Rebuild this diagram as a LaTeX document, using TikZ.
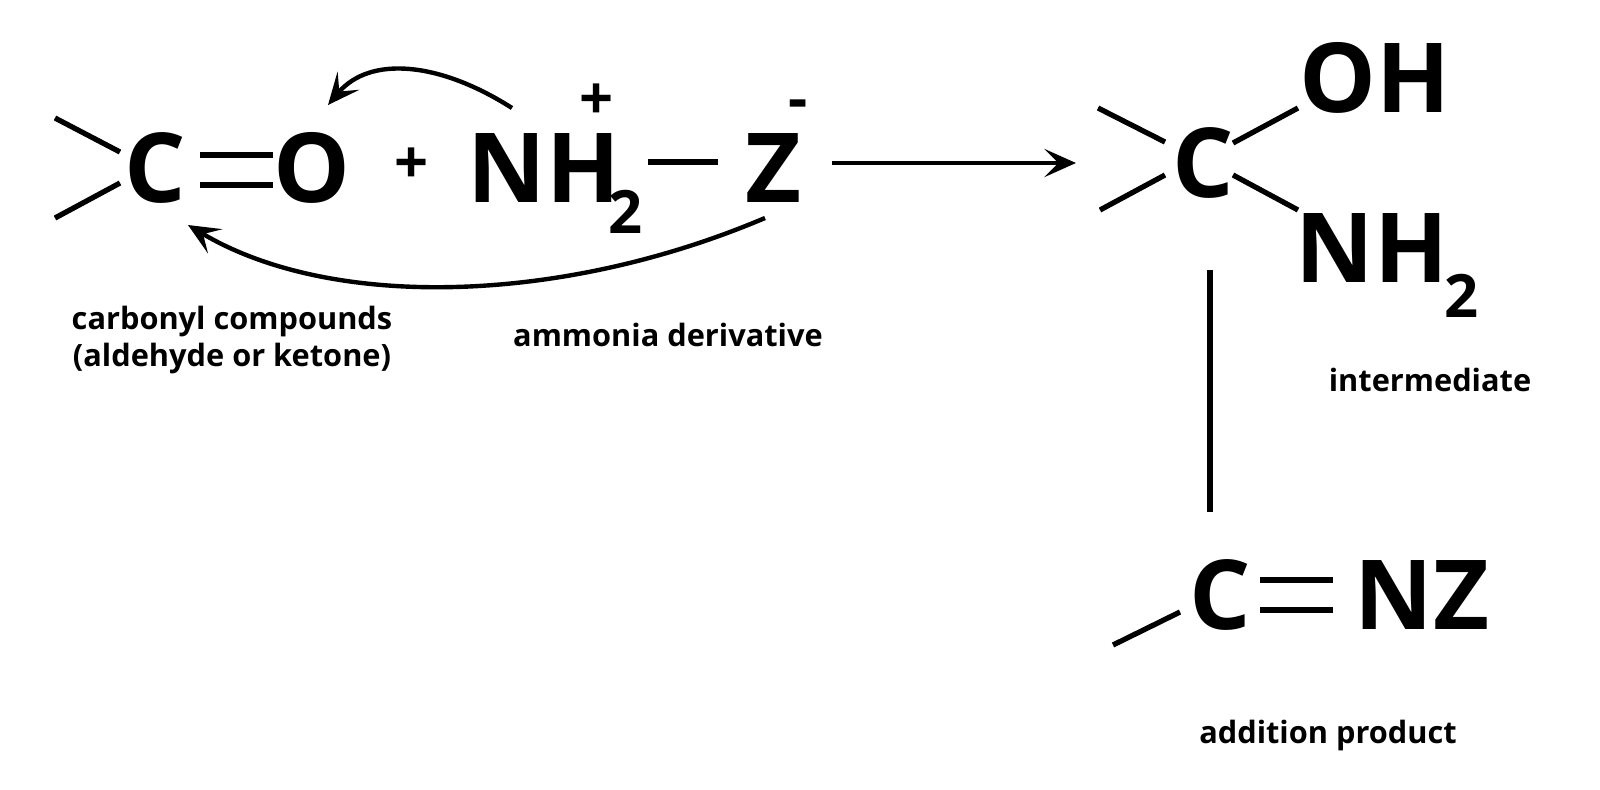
\documentclass[tikz,border=0pt]{standalone}
\usepackage{fontspec}
\setmainfont{Open Sans}
\usetikzlibrary{arrows.meta}
\begin{document}
\begin{tikzpicture}[x=0.02cm,y=-0.02cm,
  bond/.style={line width=3pt},
  big/.style={font=\fontsize{55}{60}\selectfont\bfseries,inner sep=0},
  sub/.style={font=\fontsize{34}{38}\selectfont\bfseries,inner sep=0},
  lbl/.style={font=\fontsize{17.5}{21}\selectfont\bfseries,inner sep=0,align=center},
  arr/.style={line width=2.5pt,-{Stealth[length=18pt,width=16pt,inset=8pt]}}]
\useasboundingbox (0,0) rectangle (1600,789);
% left reactants
\coordinate (a1) at (55,118); \coordinate (a2) at (120,152);
\coordinate (a3) at (55,218); \coordinate (a4) at (120,183);
\draw[bond] (a1) -- (a2); \draw[bond] (a3) -- (a4);
\node[big] (C1) at (155,168) {C};
\coordinate (d1) at (200,155); \coordinate (d2) at (273,155);
\coordinate (d3) at (200,185); \coordinate (d4) at (273,185);
\draw[bond] (d1) -- (d2); \draw[bond] (d3) -- (d4);
\node[big] (O1) at (312,168) {O};
\node[sub] (plus) at (412,166) {+};
\node[big] (N1) at (507,168) {N};
\node[big] (H1) at (583,168) {H};
\node[sub] (two1) at (626,212) {2};
\node[sub] (pl2) at (597,102) {+};
\coordinate (s1) at (648,162); \coordinate (s2) at (718,162);
\draw[bond] (s1) -- (s2);
\node[big] (Z1) at (773,168) {Z};
\node[sub] (mi) at (798,110) {-};
\coordinate (r1) at (832,163); \coordinate (r2) at (1076,163);
\draw[arr] (r1) -- (r2);
\coordinate (c1s) at (512,108); \coordinate (c1e) at (328,105);
\draw[arr] (c1s) .. controls (440,62) and (370,55) .. (c1e);
\coordinate (c2s) at (765,218); \coordinate (c2e) at (188,225);
\draw[arr] (c2s) .. controls (560,305) and (330,310) .. (c2e);
\node[lbl] (L1) at (232,340) {carbonyl compounds\\(aldehyde or ketone)};
\node[lbl] (L2) at (668,335) {ammonia derivative};
% intermediate
\coordinate (b1) at (1098,108); \coordinate (b2) at (1165,142);
\coordinate (b3) at (1100,210); \coordinate (b4) at (1165,175);
\draw[bond] (b1) -- (b2); \draw[bond] (b3) -- (b4);
\node[big] (C2) at (1203,163) {C};
\coordinate (e1) at (1233,143); \coordinate (e2) at (1298,108);
\coordinate (e3) at (1233,175); \coordinate (e4) at (1298,210);
\draw[bond] (e1) -- (e2); \draw[bond] (e3) -- (e4);
\node[big] (OH) at (1375,78) {OH};
\node[big] (NH) at (1372,248) {NH};
\node[sub] (two2) at (1462,296) {2};
\node[lbl] (L3) at (1430,380) {intermediate};
\coordinate (v1) at (1210,270); \coordinate (v2) at (1210,512);
\draw[bond] (v1) -- (v2);
% product
\coordinate (p1) at (1113,645); \coordinate (p2) at (1180,612);
\draw[bond] (p1) -- (p2);
\node[big] (C3) at (1220,595) {C};
\coordinate (f1) at (1260,580); \coordinate (f2) at (1333,580);
\coordinate (f3) at (1260,610); \coordinate (f4) at (1333,610);
\draw[bond] (f1) -- (f2); \draw[bond] (f3) -- (f4);
\node[big] (NZ) at (1422,595) {NZ};
\node[lbl] (L4) at (1328,735) {addition product};
\end{tikzpicture}
\end{document}
